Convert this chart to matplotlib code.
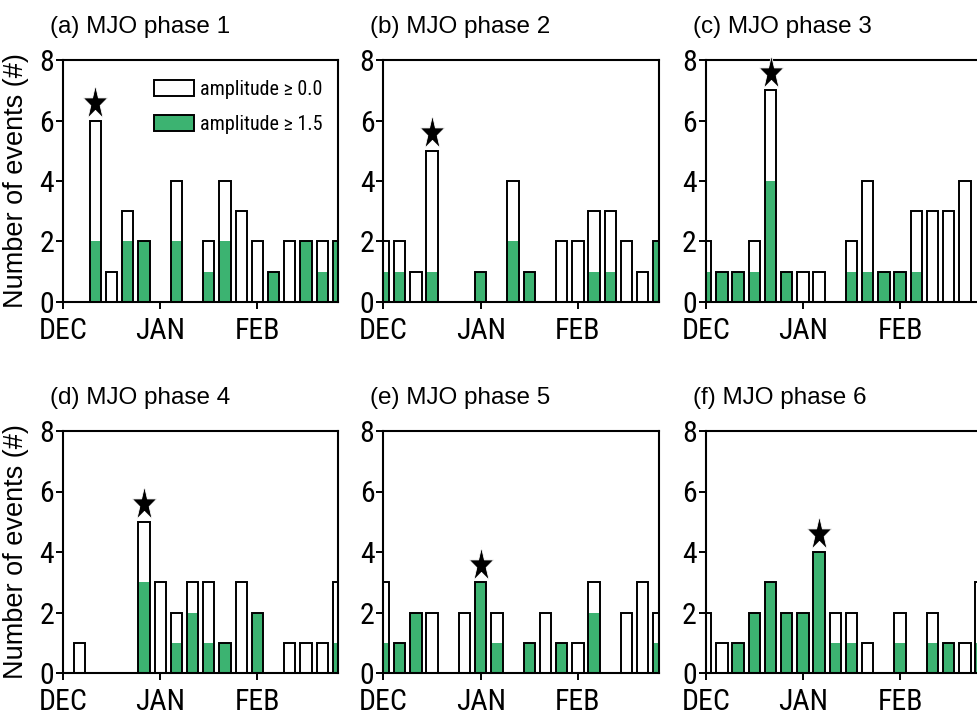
import numpy as np
import matplotlib
matplotlib.use('Agg')
import matplotlib.pyplot as plt
from matplotlib.patches import Patch
from matplotlib.path import Path
from matplotlib.markers import MarkerStyle

# pentads from 1 Dec (0) to end of Feb (17)
pentads = np.arange(18)
month_ticks = [0, 6, 12]
month_labels = ['DEC', 'JAN', 'FEB']

titles = ['(a) MJO phase 1', '(b) MJO phase 2', '(c) MJO phase 3',
          '(d) MJO phase 4', '(e) MJO phase 5', '(f) MJO phase 6']

total_a = [0, 0, 6, 1, 3, 2, 0, 4, 0, 2, 4, 3, 2, 1, 2, 2, 2, 2]
green_a = [0, 0, 2, 0, 2, 2, 0, 2, 0, 1, 2, 0, 0, 1, 0, 2, 1, 2]
total_b = [2, 2, 1, 5, 0, 0, 1, 0, 4, 1, 0, 2, 2, 3, 3, 2, 1, 2]
green_b = [1, 1, 0, 1, 0, 0, 1, 0, 2, 1, 0, 0, 0, 1, 1, 0, 0, 2]
total_c = [2, 1, 1, 2, 7, 1, 1, 1, 0, 2, 4, 1, 1, 3, 3, 3, 4, 0]
green_c = [1, 1, 1, 1, 4, 1, 0, 0, 0, 1, 1, 1, 1, 1, 0, 0, 0, 0]
total_d = [0, 1, 0, 0, 0, 5, 3, 2, 3, 3, 1, 3, 2, 0, 1, 1, 1, 3]
green_d = [0, 0, 0, 0, 0, 3, 0, 1, 2, 1, 1, 0, 2, 0, 0, 0, 0, 1]
total_e = [3, 1, 2, 2, 0, 2, 3, 2, 0, 1, 2, 1, 1, 3, 0, 2, 3, 2]
green_e = [1, 1, 2, 0, 0, 0, 3, 1, 0, 1, 0, 1, 0, 2, 0, 0, 0, 1]
total_f = [2, 1, 1, 2, 3, 2, 2, 4, 2, 2, 1, 0, 2, 0, 2, 1, 1, 3]
green_f = [0, 0, 1, 2, 3, 2, 2, 4, 1, 1, 0, 0, 1, 0, 1, 1, 0, 1]
star_pentad = [2, 3, 4, 5, 6, 7]

totals = [total_a, total_b, total_c, total_d, total_e, total_f]
greens = [green_a, green_b, green_c, green_d, green_e, green_f]

green = '#3cb371'
narrow = ['Liberation Sans Narrow', 'Arial Narrow', 'Roboto Condensed',
          'IBM Plex Sans Condensed', 'Liberation Sans', 'DejaVu Sans']
regular = ['Liberation Sans', 'DejaVu Sans']

# star stretched vertically like in the original figure
ms = MarkerStyle('*')
star = ms.get_path().transformed(ms.get_transform())
star = Path(star.vertices * [1, 1.4], star.codes)

fig = plt.figure(figsize=(9.78, 7.15), dpi=100)
W, H = 978, 715
lefts = [63, 383.5, 705.7]
bottoms = [302, 673]
aw, ah = 275.4, 242

for i in range(6):
    row, col = divmod(i, 3)
    ax = fig.add_axes([lefts[col] / W, 1 - bottoms[row] / H, aw / W, ah / H])
    tot = np.array(totals[i])
    grn = np.array(greens[i])
    ax.bar(pentads, tot, width=0.7, color='white', edgecolor='none', zorder=2)
    ax.bar(pentads, grn, width=0.7, color=green, edgecolor='none', zorder=3)
    ax.bar(pentads, tot, width=0.7, fill=False, edgecolor='black', linewidth=1.4, zorder=4)
    sp = star_pentad[i]
    ax.plot(sp, tot[sp] + 0.58, marker=star, markersize=26, color='black',
            markeredgecolor='white', markeredgewidth=0.6, clip_on=False, zorder=6)
    ax.set_xlim(0, 17)
    ax.set_ylim(0, 8)
    ax.set_yticks([0, 2, 4, 6, 8])
    ax.set_xticks(month_ticks)
    ax.set_xticklabels(month_labels)
    for s in ax.spines.values():
        s.set_linewidth(1.5)
        s.set_zorder(5)
    ax.tick_params(direction='out', length=5, width=1.4, labelsize=21.5)
    ax.tick_params(axis='x', pad=6)
    ax.tick_params(axis='y', pad=1.5)
    for lab in ax.get_xticklabels() + ax.get_yticklabels():
        lab.set_family(narrow)
    ax.text(-13 / aw, 1 + 27 / ah, titles[i], transform=ax.transAxes,
            ha='left', va='baseline', fontsize=17.5, family=regular)
    if col == 0:
        ax.text(-47 / aw, 0.5, 'Number of events (#)', transform=ax.transAxes,
                rotation=90, ha='center', va='center', fontsize=19.5, family=regular)
    if i == 0:
        handles = [Patch(facecolor='white', edgecolor='black', linewidth=1.4),
                   Patch(facecolor=green, edgecolor='black', linewidth=1.4)]
        ax.legend(handles, ['amplitude ≥ 0.0', 'amplitude ≥ 1.5'], loc='upper right',
                  bbox_to_anchor=(1 - 16 / aw, 1 - 20 / ah), frameon=False,
                  borderaxespad=0, borderpad=0, handlelength=1.95,
                  handleheight=0.8, handletextpad=0.3, labelspacing=0.8,
                  prop={'family': narrow, 'size': 14.5})

fig.savefig('out.png', dpi=100)
